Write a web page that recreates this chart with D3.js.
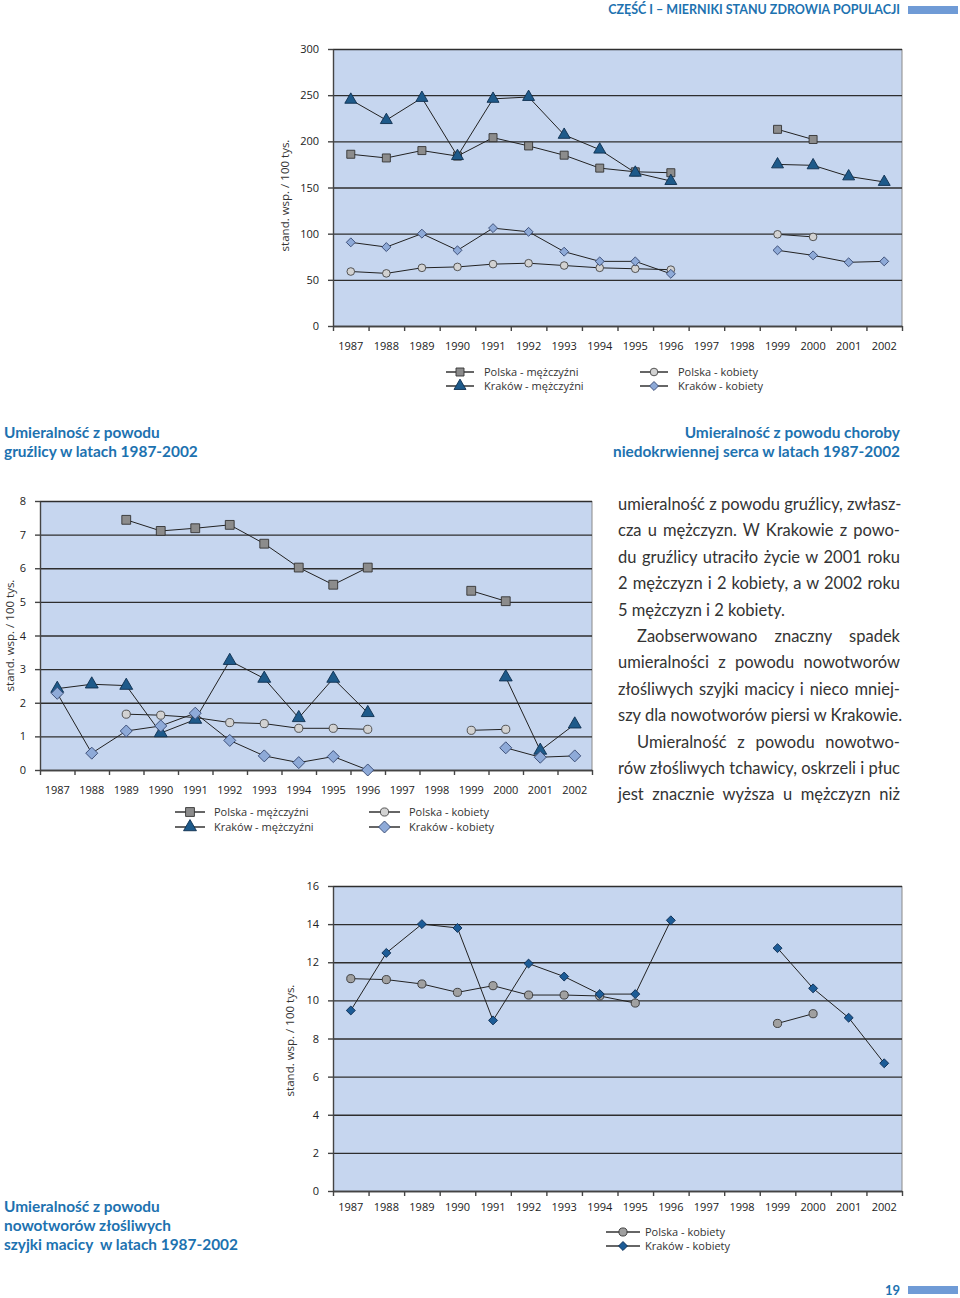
<!DOCTYPE html>
<html>
<head>
<meta charset="utf-8">
<script src="https://cdn.jsdelivr.net/npm/d3@7"></script>
<style>
body{margin:0;background:#fff;}
#page{position:relative;width:960px;height:1298px;overflow:hidden;}
svg{position:absolute;left:0;top:0;}
.txt{position:absolute;left:618px;top:491px;width:282px;font-family:Lato,"Open Sans",sans-serif;font-size:16.5px;color:#333;line-height:26.4px;}
.txt div{text-align:justify;text-align-last:justify;white-space:nowrap;}
.txt div.last{text-align-last:left;}
.txt div.ind{padding-left:19px;}
</style>
</head>
<body>
<div id="page">
<svg width="960" height="1298"></svg>
<div class="txt">
<div>umieralność z powodu gruźlicy, zwłasz-</div>
<div>cza u mężczyzn. W Krakowie z powo-</div>
<div>du gruźlicy utraciło życie w 2001 roku</div>
<div>2 mężczyzn i 2 kobiety, a w 2002 roku</div>
<div class="last">5 mężczyzn i 2 kobiety.</div>
<div class="ind">Zaobserwowano znaczny spadek</div>
<div>umieralności z powodu nowotworów</div>
<div>złośliwych szyjki macicy i nieco mniej-</div>
<div class="last">szy dla nowotworów piersi w Krakowie.</div>
<div class="ind">Umieralność z powodu nowotwo-</div>
<div>rów złośliwych tchawicy, oskrzeli i płuc</div>
<div>jest znacznie wyższa u mężczyzn niż</div>
</div>
</div>
<script>
const svg=d3.select('svg');
const blue='#1d72b0';

const years=['1987','1988','1989','1990','1991','1992','1993','1994','1995','1996','1997','1998','1999','2000','2001','2002'];

/* choroba niedokrwienna serca */
const sercePlM=[186,182,190,184,204,195,185,171,167,166,null,null,213,202,null,null];
const serceKrM=[245,223,247,184,246,248,207,191,166,157,null,null,175,174,162,156];
const sercePlK=[59,57,63,64,67,68,65.5,63,62,61,null,null,99.3,96.5,null,null];
const serceKrK=[90.6,85.5,100,82,106,102,80.5,70,70,56.5,null,null,82,76.5,69,70];

/* gruzlica */
const gruzPlM=[null,null,7.44,7.11,7.19,7.29,6.73,6.02,5.51,6.02,null,null,5.33,5.02,null,null];
const gruzKrM=[2.42,2.55,2.51,1.1,1.5,3.25,2.72,1.55,2.72,1.7,null,null,null,2.76,0.58,1.36];
const gruzPlK=[null,null,1.66,1.63,1.56,1.41,1.38,1.24,1.24,1.21,null,null,1.18,1.21,null,null];
const gruzKrK=[2.28,0.5,1.16,1.31,1.69,0.88,0.42,0.22,0.4,0,null,null,null,0.66,0.38,0.42];

/* nowotwory szyjki macicy */
const szyjPlK=[11.14,11.09,10.86,10.42,10.77,10.28,10.28,10.23,9.86,null,null,null,8.79,9.3,null,null];
const szyjKrK=[9.47,12.49,14.0,13.8,8.95,11.93,11.25,10.33,10.33,14.2,null,null,12.74,10.63,9.09,6.7];

const yTitle='stand. wsp. / 100 tys.';

// marker styles
const mSquare={type:d3.symbolSquare,size:64,fill:'#8c8c8c',stroke:'#333'};
const mTri={type:d3.symbolTriangle,size:62,fill:'#1e5a8a',stroke:'#0f2f4f'};
const mCircle={type:d3.symbolCircle,size:46,fill:'#d2d2d2',stroke:'#444'};
const mDiam={type:d3.symbolSquare,size:40,fill:'#8eaad8',stroke:'#3a4c74',rot:45};

const charts=[
  {left:333,right:902,top:49,bottom:326,max:300,step:50,pad:16,titleX:285,titleDy:8,
   series:[
     {v:sercePlM,m:mSquare,label:'Polska - mężczyźni'},
     {v:sercePlK,m:mCircle,label:'Polska - kobiety'},
     {v:serceKrM,m:mTri,label:'Kraków - mężczyźni'},
     {v:serceKrK,m:mDiam,label:'Kraków - kobiety'}],
   legend:[[446,474,484,372],[640,668,678,372],[446,474,484,386],[640,668,678,386]]},
  {left:40,right:592,top:501,bottom:770,max:8,step:1,pad:16,titleX:10,titleDy:0,
   series:[
     {v:gruzPlM,m:{...mSquare,size:78},label:'Polska - mężczyźni'},
     {v:gruzPlK,m:{...mCircle,size:52},label:'Polska - kobiety'},
     {v:gruzKrM,m:{...mTri,size:72},label:'Kraków - mężczyźni'},
     {v:gruzKrK,m:{...mDiam,size:72},label:'Kraków - kobiety'}],
   legend:[[175,205,214,812],[369,400,409,812],[175,205,214,827],[369,400,409,827]]},
  {left:333,right:902,top:886,bottom:1191,max:16,step:2,pad:12,titleX:290,titleDy:2,
   series:[
     {v:szyjPlK,m:{type:d3.symbolCircle,size:52,fill:'#a0a0a0',stroke:'#333'},label:'Polska - kobiety'},
     {v:szyjKrK,m:{type:d3.symbolSquare,size:40,fill:'#1c5c97',stroke:'#0f2f55',rot:45},label:'Kraków - kobiety'}],
   legend:[[606,640,645,1232],[606,640,645,1246]]}
];

const marker=(sel,m)=>sel.append('path')
  .attr('d',d3.symbol().type(m.type).size(m.size))
  .attr('fill',m.fill).attr('stroke',m.stroke).attr('stroke-width',0.9);

charts.forEach(c=>{
  const g=svg.append('g');
  const w=c.right-c.left;
  const x=d3.scaleBand().domain(years).range([c.left,c.right]);
  const xb=d3.scaleLinear().domain([0,16]).range([c.left,c.right]);
  const y=d3.scaleLinear().domain([0,c.max]).range([c.bottom,c.top]);
  const ticks=d3.range(0,c.max+c.step/2,c.step);

  g.append('rect').attr('x',c.left).attr('y',c.top).attr('width',w).attr('height',c.bottom-c.top)
    .attr('fill','#c6d6ef');
  g.append('line').attr('x1',c.right).attr('x2',c.right).attr('y1',c.top).attr('y2',c.bottom)
    .attr('stroke','#8a8a8a');

  // grid
  g.append('g').attr('transform',`translate(${c.left},0)`)
    .call(d3.axisLeft(y).tickValues(ticks).tickSize(-w).tickFormat(''))
    .call(a=>a.select('.domain').remove())
    .selectAll('line').attr('stroke','#2e2e2e').attr('stroke-width',1.3);

  const ya=g.append('g').attr('transform',`translate(${c.left},0)`)
    .call(d3.axisLeft(y).tickValues(ticks).tickSize(5).tickPadding(9).tickSizeOuter(0));
  ya.selectAll('text').attr('font-family','Open Sans').attr('font-size',11).attr('fill','#222');
  ya.selectAll('line,path').attr('stroke','#444').attr('stroke-width',1.4);

  const xa=g.append('g').attr('transform',`translate(0,${c.bottom})`)
    .call(d3.axisBottom(x).tickSize(0).tickPadding(c.pad));
  xa.select('.domain').remove();
  xa.selectAll('text').attr('font-family','Open Sans').attr('font-size',11).attr('fill','#222');
  const xt=g.append('g').attr('transform',`translate(0,${c.bottom})`)
    .call(d3.axisBottom(xb).tickValues(d3.range(0,17)).tickSize(5).tickSizeOuter(0).tickFormat(''));
  xt.selectAll('line,path').attr('stroke','#444').attr('stroke-width',1.4);

  g.append('text').attr('transform',`translate(${c.titleX},${(c.top+c.bottom)/2+c.titleDy})rotate(-90)`)
    .attr('text-anchor','middle').attr('dy','0.35em')
    .attr('font-family','Open Sans').attr('font-size',11.5).attr('fill','#333').text(yTitle);

  const line=d3.line().defined(d=>d!=null)
    .x((d,i)=>x(years[i])+x.bandwidth()/2).y(d=>y(d));
  c.series.forEach(s=>{
    g.append('path').attr('d',line(s.v)).attr('fill','none').attr('stroke','#222').attr('stroke-width',1);
  });
  c.series.forEach(s=>{
    g.selectAll(null).data(s.v.map((d,i)=>[years[i],d]).filter(d=>d[1]!=null)).enter()
      .append('g')
      .attr('transform',d=>`translate(${x(d[0])+x.bandwidth()/2},${y(d[1])})rotate(${s.m.rot||0})`)
      .each(function(){marker(d3.select(this),s.m);});
  });

  // legend
  c.series.forEach((s,i)=>{
    const [a,b,tx,ly]=c.legend[i];
    const lg=g.append('g');
    lg.append('line').attr('x1',a).attr('x2',b).attr('y1',ly).attr('y2',ly).attr('stroke','#333').attr('stroke-width',1.5);
    marker(lg.append('g').attr('transform',`translate(${(a+b)/2},${ly})rotate(${s.m.rot||0})`),s.m);
    lg.append('text').attr('x',tx).attr('y',ly).attr('dy','0.35em')
      .attr('font-family','Open Sans').attr('font-size',11).attr('fill','#333').text(s.label);
  });
});

// header / titles
svg.append('text').attr('x',900).attr('y',14).attr('text-anchor','end')
  .attr('font-family','Lato').attr('font-weight','bold').attr('font-size',12.5).attr('fill',blue)
  .text('CZĘŚĆ I – MIERNIKI STANU ZDROWIA POPULACJI');
svg.append('rect').attr('x',908).attr('y',6).attr('width',50).attr('height',8).attr('fill','#6f9bd6');
svg.append('text').attr('x',900).attr('y',1295).attr('text-anchor','end')
  .attr('font-family','Lato').attr('font-weight','bold').attr('font-size',13).attr('fill',blue).text('19');
svg.append('rect').attr('x',908).attr('y',1286).attr('width',50).attr('height',8).attr('fill','#6f9bd6');

const titles=[
  {x:4,anchor:'start',y:[433,452],t:['Umieralność z powodu','gruźlicy w latach 1987-2002']},
  {x:900,anchor:'end',y:[433,452],t:['Umieralność z powodu choroby','niedokrwiennej serca w latach 1987-2002']},
  {x:4,anchor:'start',y:[1207,1226,1245],t:['Umieralność z powodu','nowotworów złośliwych','szyjki macicy  w latach 1987-2002']}
];
titles.forEach(b=>b.t.forEach((t,i)=>{
  svg.append('text').attr('x',b.x).attr('y',b.y[i]).attr('dy','0.35em').attr('text-anchor',b.anchor)
    .attr('font-family','Lato').attr('font-weight','bold').attr('font-size',15.4).attr('fill',blue)
    .style('white-space','pre').text(t);
}));
</script>
</body>
</html>
